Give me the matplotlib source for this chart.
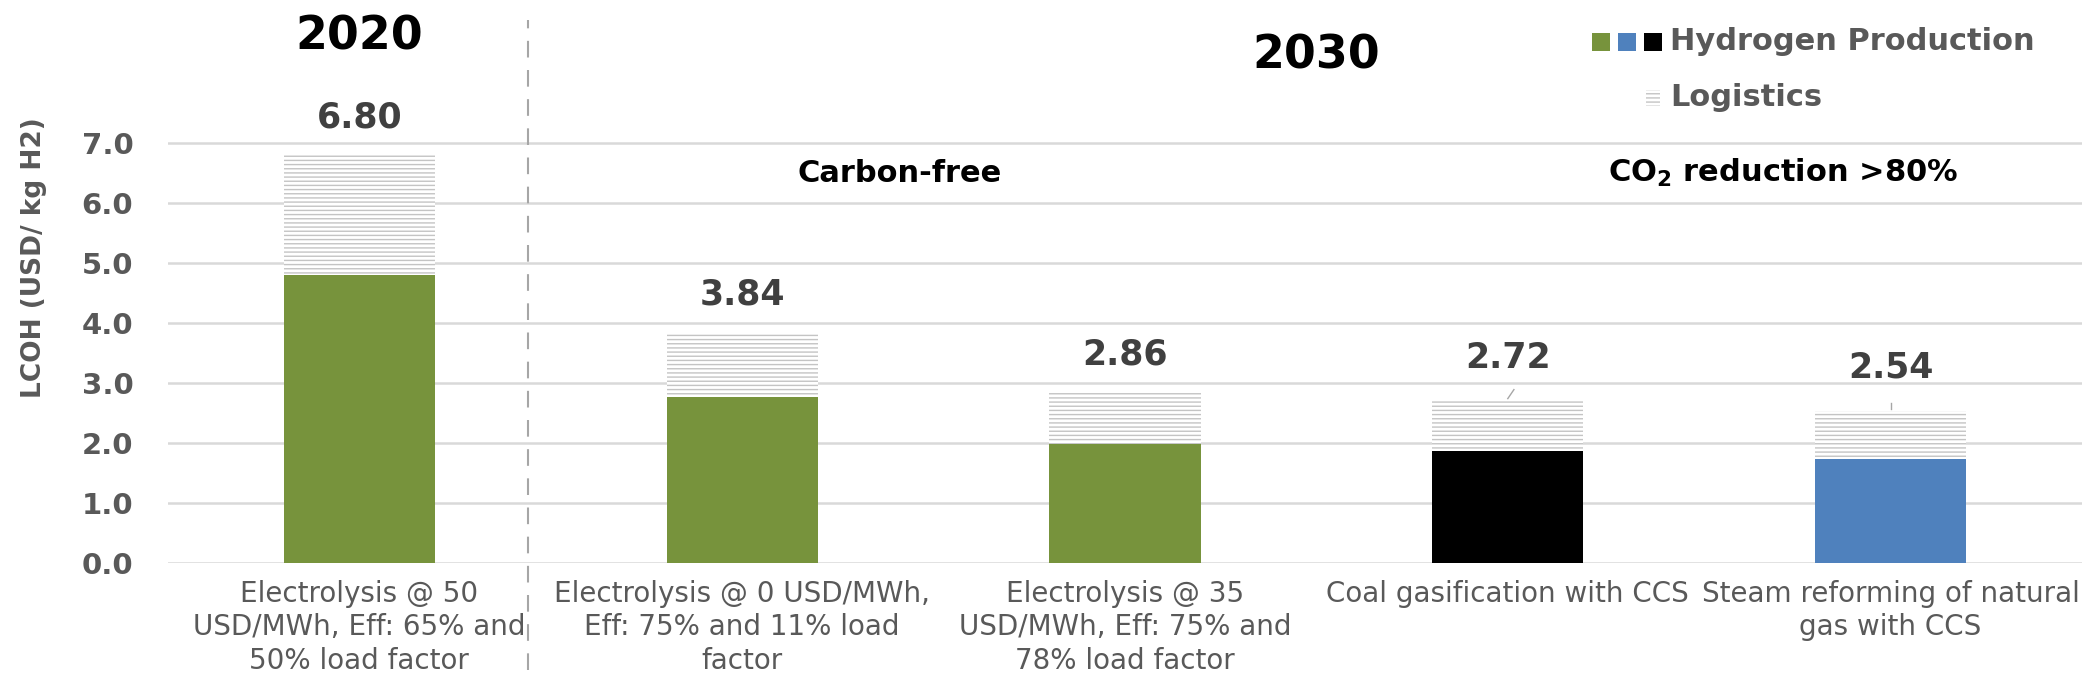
#!/usr/bin/env python
# -*- coding: utf-8 -*-

"""
LCOH comparison chart: hydrogen production + logistics stacked bars
"""

import matplotlib.pyplot as plt
from matplotlib.patches import Rectangle

# ---- data ----
categories = ['Electrolysis @ 50\nUSD/MWh, Eff: 65% and\n50% load factor',
              'Electrolysis @ 0 USD/MWh,\nEff: 75% and 11% load\nfactor',
              'Electrolysis @ 35\nUSD/MWh, Eff: 75% and\n78% load factor',
              'Coal gasification with CCS',
              'Steam reforming of natural\ngas with CCS']
production = [4.80, 2.77, 1.98, 1.86, 1.74]
totals = [6.80, 3.84, 2.86, 2.72, 2.54]
logistics = [t - p for t, p in zip(totals, production)]
bar_colors = ['#77933c', '#77933c', '#77933c', '#000000', '#4f81bd']
y_ticks = [0, 1, 2, 3, 4, 5, 6, 7]

# ---- layout ----
x_pos = list(range(len(categories)))
bar_w = 0.395
label_off = [0.63, 0.63, 0.61, 0.70, 0.71]
GRAY = '#595959'
W, H = 2082, 697

plt.rcParams['font.family'] = ['DejaVu Sans']
plt.rcParams['mathtext.fontset'] = 'dejavusans'

fig = plt.figure(figsize=(W / 100, H / 100), dpi=100)
ax = fig.add_axes([168 / W, 134 / H, 1 - 168 / W, 563 / H])
ax.set_xlim(-0.5, 4.5)
ax.set_ylim(0, 563 / 60)

# grid
ax.set_yticks(y_ticks)
ax.set_yticklabels(['%.1f' % v for v in y_ticks], fontsize=21, fontweight='bold',
                   color=GRAY)
ax.yaxis.grid(True, color='#d9d9d9', linewidth=1.8)
ax.set_axisbelow(True)
ax.tick_params(axis='y', length=0, pad=25)
for s in ax.spines.values():
    s.set_visible(False)

# bars
ax.bar(x_pos, production, width=bar_w, color=bar_colors, linewidth=0)
ax.bar(x_pos, logistics, bottom=production, width=bar_w, color='white',
       edgecolor='#c4c4c4', hatch='----', linewidth=0)

# value labels
for x, t, off in zip(x_pos, totals, label_off):
    ax.text(x, t + off, '%.2f' % t, ha='center', va='center', fontsize=25,
            fontweight='bold', color='#404040')
# leader lines
ax.plot([x_pos[3], x_pos[3] + 0.016], [totals[3] + 0.02, totals[3] + 0.17],
        color='#a6a6a6', linewidth=1)
ax.plot([x_pos[4], x_pos[4]], [totals[4] + 0.02, totals[4] + 0.12],
        color='#a6a6a6', linewidth=1)

# category labels
ax.set_xticks(x_pos)
ax.set_xticklabels(categories, fontsize=20, color=GRAY, linespacing=1.25)
ax.tick_params(axis='x', length=0, pad=12)

# separator
ax.axvline(0.44, ymin=-0.19, ymax=0.964, color='#a6a6a6', linestyle=(0, (8, 6)),
           linewidth=1.5, clip_on=False)

# headers
ax.text(x_pos[0], 8.77, '2020', ha='center', va='center', fontsize=33,
        fontweight='bold', color='black')
ax.text(2.5, 8.45, '2030', ha='center', va='center', fontsize=33,
        fontweight='bold', color='black')
ax.text(1.41, 6.5, 'Carbon-free', ha='center', va='center', fontsize=22,
        fontweight='bold', color='black')
ax.text(3.72, 6.5, 'CO$_\\mathbf{2}$ reduction >80%', ha='center', va='center',
        fontsize=22, fontweight='bold', color='black')

# y label
fig.text(34 / W, 1 - 258 / H, 'LCOH (USD/ kg H2)', rotation=90, ha='center',
         va='center', fontsize=19, fontweight='bold', color=GRAY)

# legend (drawn by hand)
sq = 18 / W
sq_h = 18 / H
for i, c in enumerate(['#77933c', '#4f81bd', '#000000']):
    fig.add_artist(Rectangle((1592 / W + i * 26 / W, 1 - 51 / H), sq, sq_h,
                             transform=fig.transFigure, facecolor=c, linewidth=0))
fig.add_artist(Rectangle((1646 / W, 1 - 106 / H), 14 / W, 16 / H,
                         transform=fig.transFigure, facecolor='white',
                         edgecolor='#c4c4c4', hatch='----', linewidth=0))
fig.text(1670 / W, 1 - 42 / H, 'Hydrogen Production', ha='left', va='center',
         fontsize=22, fontweight='bold', color=GRAY)
fig.text(1670 / W, 1 - 97 / H, 'Logistics', ha='left', va='center',
         fontsize=22, fontweight='bold', color=GRAY)

plt.savefig('out.png', dpi=100)
